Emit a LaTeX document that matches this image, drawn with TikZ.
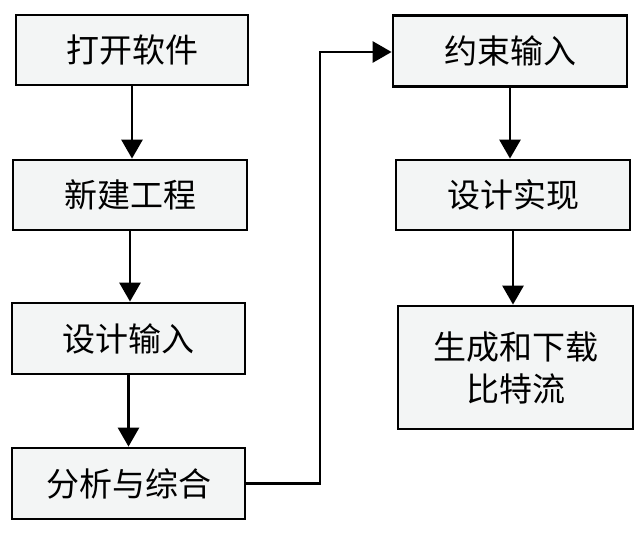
\documentclass[tikz,border=0pt]{standalone}
\usepackage{fontspec}
\newfontfamily\cjk{Noto Sans CJK SC}
\usetikzlibrary{arrows.meta}
\definecolor{boxfill}{RGB}{243,245,245}
\begin{document}
\begin{tikzpicture}[x=1pt,y=-1pt,
  procbox/.style={draw=black,line width=2.8pt,fill=boxfill,rectangle,inner sep=0pt,
    font=\cjk\fontsize{33}{42}\selectfont,align=center},
  flow/.style={line width=2.8pt,-{Triangle[length=19pt,width=21pt]}}]
\useasboundingbox (0,0) rectangle (642,535);
\node[procbox,minimum width=232pt,minimum height=70pt] (b1) at (132,50) {打开软件};
\node[procbox,minimum width=234pt,minimum height=70pt] (b2) at (130,195) {新建工程};
\node[procbox,minimum width=233pt,minimum height=71pt] (b3) at (128.5,338.5) {设计输入};
\node[procbox,minimum width=233pt,minimum height=71pt] (b4) at (128.5,483.5) {分析与综合};
\node[procbox,minimum width=234pt,minimum height=71pt] (b5) at (510,51) {约束输入};
\node[procbox,minimum width=234pt,minimum height=70pt] (b6) at (513,195) {设计实现};
\node[procbox,minimum width=235pt,minimum height=123pt] (b7) at (515.5,367.5) {生成和下载\\比特流};
\draw[flow] (b1.south) -- (b1.south |- b2.north);
\draw[flow] (b2.south) -- (b2.south |- b3.north);
\draw[flow] (b3.south) -- (b3.south |- b4.north);
\draw[flow] (b5.south) -- (b5.south |- b6.north);
\draw[flow] (b6.south) -- (b6.south |- b7.north);
\coordinate (bend) at (320,52);
\draw[flow] (b4.east) -- (b4.east -| bend) -- (bend) -- (bend -| b5.west);
\end{tikzpicture}
\end{document}
